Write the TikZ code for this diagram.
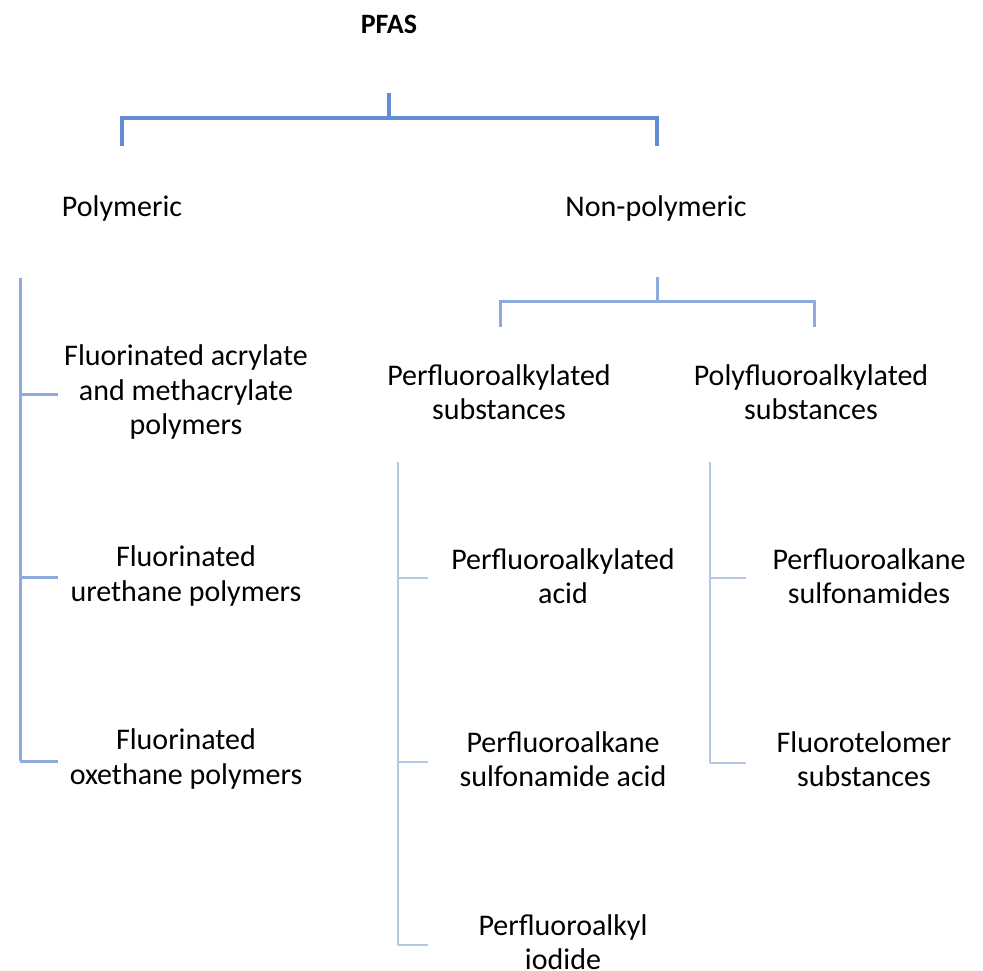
\documentclass[tikz,border=0pt]{standalone}
\usepackage{fontspec}
\setmainfont{Carlito}
\definecolor{lvone}{RGB}{96,140,212}
\definecolor{lvtwo}{RGB}{143,170,220}
\definecolor{lvthree}{RGB}{180,199,231}
\begin{document}
\begin{tikzpicture}[x=1pt,y=-1pt,
  lbl/.style={inner sep=0pt,align=center,text=black,font=\fontsize{30}{34.5}\selectfont},
  ttl/.style={inner sep=0pt,text=black,font=\fontsize{28}{32}\selectfont\bfseries},
  bone/.style={draw=lvone,line width=3.4pt},
  btwo/.style={draw=lvtwo,line width=3pt},
  bthree/.style={draw=lvthree,line width=2.6pt}]
\useasboundingbox (0,0) rectangle (983,971);
\fill[white] (0,0) rectangle (983,971);
% nodes
\node[ttl] (pfas) at (389,24) {PFAS};
\node[lbl] (poly) at (122,209) {Polymeric};
\node[lbl] (nonpoly) at (656,209) {Non-polymeric};
\node[lbl] (acr) at (186,392) {Fluorinated acrylate\\and methacrylate\\polymers};
\node[lbl] (ure) at (186,576) {Fluorinated\\urethane polymers};
\node[lbl] (oxe) at (186,759) {Fluorinated\\oxethane polymers};
\node[lbl] (perf) at (499,392) {Perfluoroalkylated\\substances};
\node[lbl] (polyf) at (811,392) {Polyfluoroalkylated\\substances};
\node[lbl] (pfacid) at (563,576) {Perfluoroalkylated\\acid};
\node[lbl] (pfsacid) at (563,759) {Perfluoroalkane\\sulfonamide acid};
\node[lbl] (pfiod) at (563,942) {Perfluoroalkyl\\iodide};
\node[lbl] (pfsam) at (869,576) {Perfluoroalkane\\sulfonamides};
\node[lbl] (ftel) at (864,759) {Fluorotelomer\\substances};
% bracket coordinates
\coordinate (s1top) at (389,93);
\coordinate (s1bar) at (389,118);
\coordinate (s1l) at (122,146);
\coordinate (s1r) at (657,146);
\coordinate (s2top) at (657,277);
\coordinate (s2bar) at (657,301);
\coordinate (s2l) at (500,327);
\coordinate (s2r) at (814,327);
\coordinate (v1top) at (20,278);
\coordinate (v1bot) at (20,761);
\coordinate (v2top) at (398,462);
\coordinate (v2bot) at (398,945);
\coordinate (v3top) at (710,462);
\coordinate (v3bot) at (710,763);
% top bracket
\draw[bone] (s1top) -- (s1bar);
\draw[bone] (s1l) |- (s1bar) -| (s1r);
% non-polymeric bracket
\draw[btwo] (s2top) -- (s2bar);
\draw[btwo] (s2l) |- (s2bar) -| (s2r);
% polymeric list
\draw[btwo] (v1top) -- (v1bot);
\draw[btwo] (20,394) -- (58,394);
\draw[btwo] (20,577) -- (58,577);
\draw[btwo] (v1bot) -- (58,761);
% perfluoro list
\draw[bthree] (v2top) -- (v2bot);
\draw[bthree] (398,578) -- (428,578);
\draw[bthree] (398,762) -- (428,762);
\draw[bthree] (v2bot) -- (428,945);
% polyfluoro list
\draw[bthree] (v3top) -- (v3bot);
\draw[bthree] (710,578) -- (746,578);
\draw[bthree] (v3bot) -- (746,763);
\end{tikzpicture}
\end{document}
